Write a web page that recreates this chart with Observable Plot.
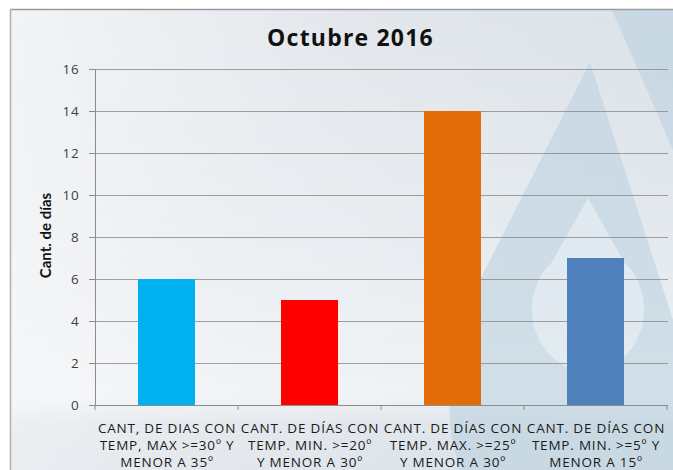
<!DOCTYPE html>
<html><head><meta charset="utf-8">
<script src="https://cdn.jsdelivr.net/npm/d3@7"></script>
<script src="https://cdn.jsdelivr.net/npm/@observablehq/plot@0.6"></script>
<style>
html,body{margin:0;padding:0;background:#fff;}
#wrap{position:relative;width:673px;height:470px;overflow:hidden;font-family:Lato,"Open Sans",sans-serif;}
#bg{position:absolute;left:0;top:0;}
#title{position:absolute;left:28px;right:0;top:21px;text-align:center;font:700 23px "Open Sans",sans-serif;letter-spacing:1.2px;color:#111;}
#chart{position:absolute;left:0;top:0;}
#chart g[aria-label="x-axis tick label"] text{letter-spacing:0.8px;}
#chart g[aria-label="y-axis tick label"] text{letter-spacing:0.8px;}
</style></head>
<body>
<div id="wrap">
<svg id="bg" width="673" height="470">
  <defs>
    <linearGradient id="g1" x1="0" y1="0" x2="1" y2="0.3">
      <stop offset="0" stop-color="#f2f4f6"/>
      <stop offset="0.45" stop-color="#e4e8ed"/>
      <stop offset="1" stop-color="#d9e1e8"/>
    </linearGradient>
    <linearGradient id="g2" x1="0" y1="0" x2="0" y2="1">
      <stop offset="0" stop-color="#ffffff" stop-opacity="0.0"/>
      <stop offset="0.6" stop-color="#ffffff" stop-opacity="0.35"/>
      <stop offset="0.84" stop-color="#ffffff" stop-opacity="0.55"/>
      <stop offset="0.9" stop-color="#ffffff" stop-opacity="0.1"/>
      <stop offset="1" stop-color="#ffffff" stop-opacity="0.05"/>
    </linearGradient>
  </defs>
  <rect x="0" y="0" width="673" height="470" fill="#ffffff"/>
  <rect x="10" y="9" width="663" height="461" fill="url(#g1)"/>
  <rect x="10" y="9" width="663" height="461" fill="url(#g2)"/>
  <path d="M612,10 L673,10 L673,150 Z" fill="#c4d6e2" opacity="0.8"/>
  <path d="M590,62 L485,270 Q430,380 460,470 L673,470 L673,320 Z" fill="#bcd2e0" opacity="0.6"/>
  <path d="M588,198 L552,262 A56,62 0 1 0 624,262 Z" fill="#eef3f6" opacity="0.6"/>
  <line x1="10" y1="9.5" x2="673" y2="9.5" stroke="#9a9a9a" stroke-width="1.5"/>
  <line x1="10.5" y1="9" x2="10.5" y2="470" stroke="#b0b0b0" stroke-width="1.5"/>
</svg>
<div id="chart"></div>
<div id="title">Octubre 2016</div>
</div>
<script>
const categories = [
  "CANT, DE DIAS CON\nTEMP, MAX >=30º Y\nMENOR A 35º",
  "CANT. DE DÍAS CON\nTEMP. MIN. >=20º\nY MENOR A 30º",
  "CANT. DE DÍAS CON\nTEMP. MAX. >=25º\nY MENOR A 30º",
  "CANT. DE DÍAS CON\nTEMP. MIN. >=5º Y\nMENOR A 15º"
];
const values = [6, 5, 14, 7];
const colors = ["#00b0f0", "#ff0000", "#e36c09", "#4f81bd"];
const yTicks = [0, 2, 4, 6, 8, 10, 12, 14, 16];
const yLabel = "Cant. de días";

const data = categories.map((c, i) => ({cat: c, value: values[i], color: colors[i]}));

// left axis line and x tick marks at band boundaries, derived from the scales
function axisLines(index, scales, values, dimensions) {
  const x = scales.x;
  const step = typeof x.step === "function" ? x.step() : (dimensions.width - dimensions.marginLeft - dimensions.marginRight) / categories.length;
  const bw = typeof x.bandwidth === "function" ? x.bandwidth() : 0;
  const y0 = dimensions.height - dimensions.marginBottom;
  const xl = dimensions.marginLeft;
  const g = d3.create("svg:g").attr("stroke", "#8c8c8c").attr("stroke-width", 1);
  g.append("line").attr("x1", xl + 0.5).attr("x2", xl + 0.5).attr("y1", dimensions.marginTop).attr("y2", y0);
  const xs = [x(categories[0]) + bw / 2 - step / 2, ...categories.map(c => x(c) + bw / 2 + step / 2)];
  xs.forEach(xr => {
    g.append("line").attr("x1", xr).attr("x2", xr).attr("y1", y0).attr("y2", y0 + 5);
  });
  return g.node();
}

const chart = Plot.plot({
  width: 673,
  height: 470,
  marginLeft: 95,
  marginRight: 5,
  marginTop: 69,
  marginBottom: 65,
  style: {background: "transparent", fontFamily: "'Open Sans', sans-serif"},
  x: {domain: categories, paddingInner: 0.6, paddingOuter: 0.3, label: null},
  y: {domain: [0, 16], ticks: yTicks, label: null},
  marks: [
    Plot.gridY(yTicks, {stroke: "#8a8a8a", strokeOpacity: 0.8, strokeWidth: 1}),
    Plot.barY(data, {x: "cat", y: "value", fill: "color"}),
    Plot.ruleY([0], {stroke: "#8c8c8c", strokeWidth: 1}),
    axisLines,
    Plot.axisY(yTicks, {tickSize: 6, tickPadding: 10, fontSize: 13.5, fill: "#404040", stroke: "#8c8c8c", label: null}),
    Plot.axisX({tickSize: 0, tickPadding: 15, fontSize: 13.5, lineHeight: 1.26, fill: "#1a1a1a", label: null}),
    Plot.text([yLabel], {frameAnchor: "left", dx: -49, dy: -2, rotate: -90, textAnchor: "middle", fontFamily: "Lato, sans-serif", fontSize: 15, fontWeight: "bold", fill: "#111", text: d => d})
  ]
});
document.getElementById("chart").appendChild(chart);
</script>
</body></html>
